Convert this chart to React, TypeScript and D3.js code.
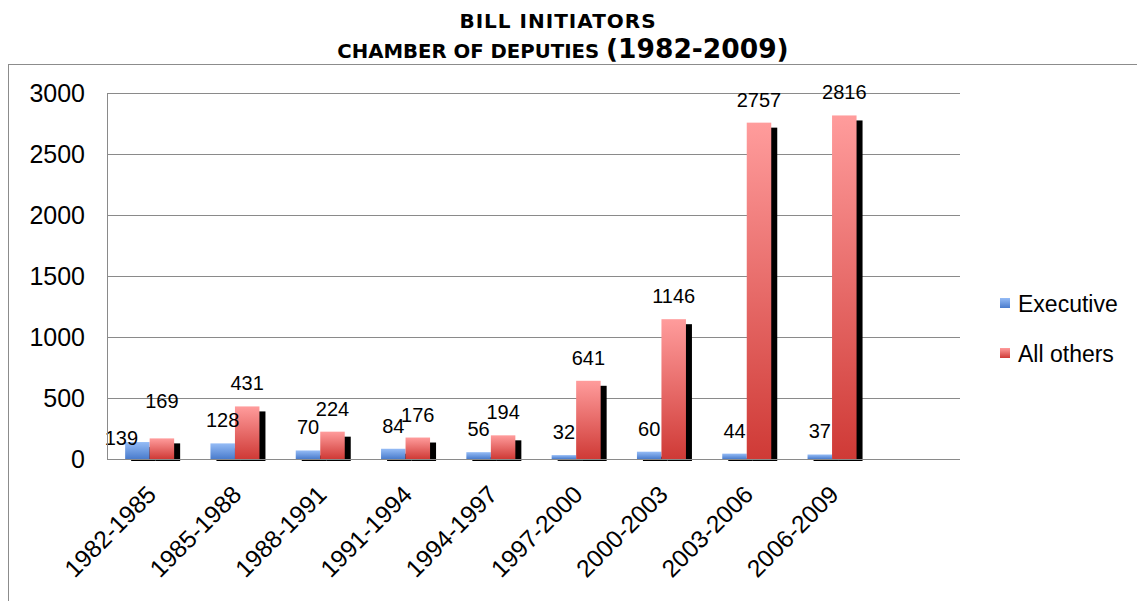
import React from "react";
import * as d3 from "d3";

const categories = ["1982-1985","1985-1988","1988-1991","1991-1994","1994-1997","1997-2000","2000-2003","2003-2006","2006-2009"];
const executive = [139,128,70,84,56,32,60,44,37];
const allOthers = [169,431,224,176,194,641,1146,2757,2816];
const yTicks = [0,500,1000,1500,2000,2500,3000];
const seriesNames = ["Executive","All others"];

export default function App() {
  const W = 1137, H = 601;
  const left = 107, right = 960, top = 93, bottom = 459;
  const slots = [...categories, ""];
  const x = d3.scaleBand<string>().domain(slots.map((c, i) => c || "empty" + i)).range([left, right]);
  const y = d3.scaleLinear().domain([0, 3000]).range([bottom, top]);
  const bw = 24.5;
  const font = "'Liberation Sans', Arial, sans-serif";
  const titleFont = "'DejaVu Sans', Verdana, sans-serif";
  const digitW = 11.1; // approx width per digit at 20px
  return (
    <svg width={W} height={H} style={{ position: "absolute", left: 0, top: 0, background: "#fff" }}>
      <defs>
        <linearGradient id="gb" x1="0" y1="0" x2="0" y2="1">
          <stop offset="0" stopColor="#95bcf6" />
          <stop offset="1" stopColor="#4a7ccc" />
        </linearGradient>
        <linearGradient id="gr" x1="0" y1="0" x2="0" y2="1">
          <stop offset="0" stopColor="#ff9c9c" />
          <stop offset="1" stopColor="#cf3a36" />
        </linearGradient>
      </defs>
      <rect x={0} y={0} width={W} height={H} fill="#fff" />
      <rect x={8.5} y={64.5} width={1140} height={560} fill="none" stroke="#8c8c8c" strokeWidth={1} />
      <text x={558} y={28} textAnchor="middle" fontFamily={titleFont} fontWeight="bold" fontSize={20} letterSpacing={1} fill="#000">BILL INITIATORS</text>
      <text x={563} y={58} textAnchor="middle" fontFamily={titleFont} fontWeight="bold" fill="#000">
        <tspan fontSize={19.7}>CHAMBER OF DEPUTIES </tspan>
        <tspan fontSize={26.5}>(1982-2009)</tspan>
      </text>
      {yTicks.map(t => (
        <g key={t}>
          {t > 0 && <line x1={left} x2={right} y1={Math.round(y(t)) + 0.5} y2={Math.round(y(t)) + 0.5} stroke="#8a8a8a" strokeWidth={1} />}
          <text x={85} y={y(t) + 9} textAnchor="end" fontFamily={font} fontSize={25} fill="#000">{t}</text>
        </g>
      ))}
      {categories.map((c, i) => {
        const cx = (x(c) as number) + x.bandwidth() / 2;
        const ye = y(executive[i]), yr = y(allOthers[i]);
        let ex = cx - bw / 2, ey = ye - 16;
        let rx = cx + bw / 2, ry = yr - 16;
        // simple collision avoidance between the two labels of a group
        const ew = String(executive[i]).length * digitW, rw = String(allOthers[i]).length * digitW;
        const hOverlap = (ex + ew / 2) - (rx - rw / 2);
        if (hOverlap > 8 && Math.abs(ey - ry) < 16) {
          ex -= 16; ey += 19; ry -= 14;
        }
        return (
          <g key={c}>
            <rect x={cx - bw + 6} y={ye + 5} width={bw} height={bottom + 2 - ye - 5} fill="#000" />
            <rect x={cx + 6} y={yr + 5} width={bw} height={bottom + 2 - yr - 5} fill="#000" />
            <rect x={cx - bw} y={ye} width={bw} height={bottom - ye} fill="url(#gb)" />
            <rect x={cx} y={yr} width={bw} height={bottom - yr} fill="url(#gr)" />
            <text x={ex} y={ey} textAnchor="middle" fontFamily={font} fontSize={20} fill="#000">{executive[i]}</text>
            <text x={rx} y={ry} textAnchor="middle" fontFamily={font} fontSize={20} fill="#000">{allOthers[i]}</text>
            <text transform={`translate(${cx + 8},${496}) rotate(-45)`} textAnchor="end" fontFamily={font} fontSize={24.5} fill="#000">{c}</text>
          </g>
        );
      })}
      <line x1={left + 0.5} x2={left + 0.5} y1={top} y2={bottom} stroke="#8a8a8a" />
      <line x1={left} x2={right} y1={bottom + 0.5} y2={bottom + 0.5} stroke="#8a8a8a" />
      {seriesNames.map((s, i) => (
        <g key={s}>
          <rect x={1000} y={298 + i * 50} width={10} height={10} fill={i === 0 ? "url(#gb)" : "url(#gr)"} />
          <text x={1018} y={312 + i * 50} fontFamily={font} fontSize={23} fill="#000">{s}</text>
        </g>
      ))}
    </svg>
  );
}
